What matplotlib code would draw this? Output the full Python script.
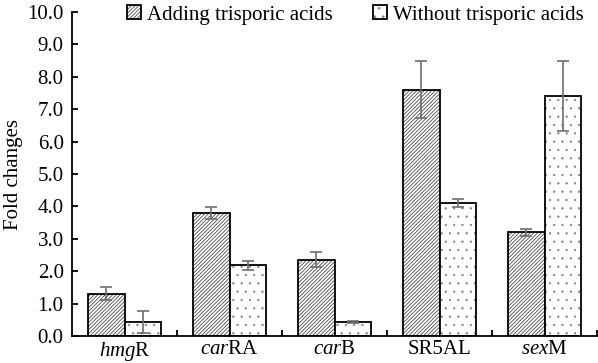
import matplotlib
matplotlib.use("Agg")
import matplotlib.pyplot as plt
import numpy as np

categories = ["$\\it{hmg}$R", "$\\it{car}$RA", "$\\it{car}$B", "SR5AL", "$\\it{sex}$M"]
adding = [1.30, 3.80, 2.35, 7.60, 3.20]
adding_err = [0.20, 0.19, 0.23, 0.88, 0.10]
without = [0.44, 2.18, 0.43, 4.10, 7.41]
without_err = [0.34, 0.15, 0.04, 0.13, 1.08]
series_names = ["Adding trisporic acids", "Without trisporic acids"]
yticks = [0, 1, 2, 3, 4, 5, 6, 7, 8, 9, 10]

plt.rcParams['font.family'] = ['Liberation Serif', 'DejaVu Serif']
plt.rcParams['mathtext.fontset'] = 'custom'
plt.rcParams['mathtext.it'] = 'Liberation Serif:italic'
plt.rcParams['mathtext.rm'] = 'Liberation Serif'
plt.rcParams['hatch.linewidth'] = 0.6

FS = 15
fig = plt.figure(figsize=(5.98, 3.63), dpi=100)
ax = fig.add_axes([72/598, (363-336)/363, (597-72)/598, (336-12)/363])

x = np.arange(len(categories))
w = 0.343
b1 = ax.bar(x - w/2, adding, w, color='white', edgecolor='black', linewidth=1.3,
            hatch='/////////', label=series_names[0], zorder=2)
b2 = ax.bar(x + w/2, without, w, color='white', edgecolor='black', linewidth=1.3,
            hatch='..', label=series_names[1], zorder=2)
for p in b1:
    p._hatch_color = (0.3, 0.3, 0.3, 1)
for p in b2:
    p._hatch_color = (0.5, 0.5, 0.5, 1)
    p._hatch_linewidth = 0.4
ax.errorbar(x - w/2, adding, yerr=adding_err, fmt='none', ecolor='#6e6e6e',
            elinewidth=1.2, capsize=4, capthick=1.2, zorder=3)
ax.errorbar(x + w/2, without, yerr=without_err, fmt='none', ecolor='#6e6e6e',
            elinewidth=1.2, capsize=4, capthick=1.2, zorder=3)

ax.set_xlim(-0.5, len(categories) - 0.5)
ax.set_ylim(0, 10)
ax.set_yticks(yticks)
ax.set_yticklabels([f"{v:.1f}" for v in yticks])
ax.set_xticks(x)
ax.set_xticklabels(categories)
ax.set_xticks(np.arange(len(categories)) + 0.5, minor=True)
ax.tick_params(axis='x', which='major', length=0, labelsize=FS, pad=3)
ax.tick_params(axis='x', which='minor', direction='in', length=4, width=1.3)
ax.tick_params(axis='y', direction='in', length=4, width=1.3, labelsize=FS, pad=6)
for s in ['top', 'right']:
    ax.spines[s].set_visible(False)
for s in ['left', 'bottom']:
    ax.spines[s].set_linewidth(1.3)
ax.set_ylabel("Fold changes", fontsize=FS, labelpad=3)

ax.legend(loc='center left', bbox_to_anchor=(127/598, 1 - 15/363),
          bbox_transform=fig.transFigure, ncol=2, frameon=False, borderpad=0,
          borderaxespad=0, fontsize=FS, handlelength=0.65, handleheight=0.65,
          handletextpad=0.3, columnspacing=1.95)

fig.savefig("out.png", dpi=100)
